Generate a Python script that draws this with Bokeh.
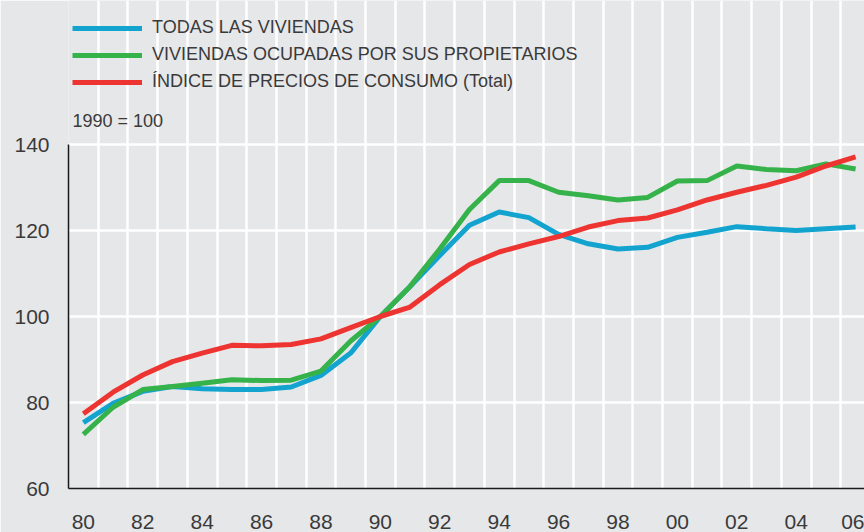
from bokeh.plotting import figure
from bokeh.models import FixedTicker, Legend, LegendItem, Label
from bokeh.embed import file_html
from bokeh.resources import INLINE

years = list(range(1980, 2007))
todas = [75.3, 79.8, 82.6, 83.7, 83.2, 83.0, 83.0, 83.6, 86.3, 91.5, 100.0, 107.0, 114.2,
         121.2, 124.3, 123.0, 119.1, 116.9, 115.7, 116.1, 118.4, 119.6, 120.9, 120.4, 120.0,
         120.4, 120.8]
propietarios = [72.6, 78.9, 83.0, 83.7, 84.5, 85.3, 85.1, 85.2, 87.3, 94.3, 100.0, 107.0,
                115.7, 124.9, 131.6, 131.6, 128.9, 128.1, 127.1, 127.7, 131.5, 131.6, 135.0,
                134.2, 133.9, 135.5, 134.3]
ipc = [77.4, 82.4, 86.4, 89.5, 91.5, 93.3, 93.2, 93.5, 94.8, 97.4, 100.0, 102.2, 107.4, 112.1,
       115.0, 116.9, 118.6, 120.8, 122.3, 122.9, 124.8, 127.1, 128.9, 130.5, 132.4, 135.0, 137.1]
labels = ["TODAS LAS VIVIENDAS", "VIVIENDAS OCUPADAS POR SUS PROPIETARIOS",
          "ÍNDICE DE PRECIOS DE CONSUMO (Total)"]
y_ticks = [60, 80, 100, 120, 140]
x_ticks = list(range(1980, 2007, 2))
x_tick_labels = {yr: f"{yr % 100:02d}" for yr in x_ticks}
base_note = "1990 = 100"

BG = "#e6e7e9"
TXT = "#3a3a3a"
FONT = "Liberation Sans"

# frame spans the whole height so the legend (drawn inside it) is not clipped;
# axis and grid bounds keep the visible chart area between 60 and 140
p = figure(width=864, height=532, output_backend="svg", toolbar_location=None,
           x_range=(1979.5, 2006.3), y_range=(60, 173.49),
           min_border_left=68, min_border_right=0, min_border_top=0, min_border_bottom=44)
p.background_fill_color = BG
p.border_fill_color = BG
p.outline_line_color = None

p.xaxis.ticker = FixedTicker(ticks=x_ticks)
p.xaxis.major_label_overrides = x_tick_labels
p.yaxis.ticker = FixedTicker(ticks=y_ticks)
p.yaxis.bounds = (60, 140)
p.xgrid.ticker = FixedTicker(ticks=[y + 0.5 for y in years])
p.xgrid.bounds = (60, 140)
p.ygrid.ticker = FixedTicker(ticks=y_ticks)
for g in (p.xgrid, p.ygrid):
    g.grid_line_color = "white"
    g.grid_line_width = 2.5
for ax in (p.xaxis, p.yaxis):
    ax.axis_line_color = "#1a1a1a"
    ax.axis_line_width = 1.5
    ax.major_tick_line_color = None
    ax.minor_tick_line_color = None
    ax.major_tick_out = 0
    ax.major_label_text_font = FONT
    ax.major_label_text_font_size = "21px"
    ax.major_label_text_color = TXT
p.yaxis.major_label_standoff = 19
p.xaxis.major_label_standoff = 26

r1 = p.line(years, todas, line_color="#13a3cf", line_width=5)
r2 = p.line(years, propietarios, line_color="#35b24a", line_width=5)
r3 = p.line(years, ipc, line_color="#ee3430", line_width=5)

legend = Legend(items=[LegendItem(label=labels[0], renderers=[r1]),
                       LegendItem(label=labels[1], renderers=[r2]),
                       LegendItem(label=labels[2], renderers=[r3])],
                location=(4, 396), padding=0, margin=0, spacing=6,
                glyph_width=70, glyph_height=20, label_height=20, label_standoff=10,
                label_text_font=FONT, label_text_font_size="18px", label_text_color=TXT,
                border_line_color=None, background_fill_alpha=0)
p.add_layout(legend, "center")

note = Label(x=4, y=368, x_units="screen", y_units="screen", text=base_note,
             text_font=FONT, text_font_size="18px", text_color=TXT, text_baseline="middle")
p.add_layout(note)

open("out.html", "w").write(file_html(p, INLINE))
